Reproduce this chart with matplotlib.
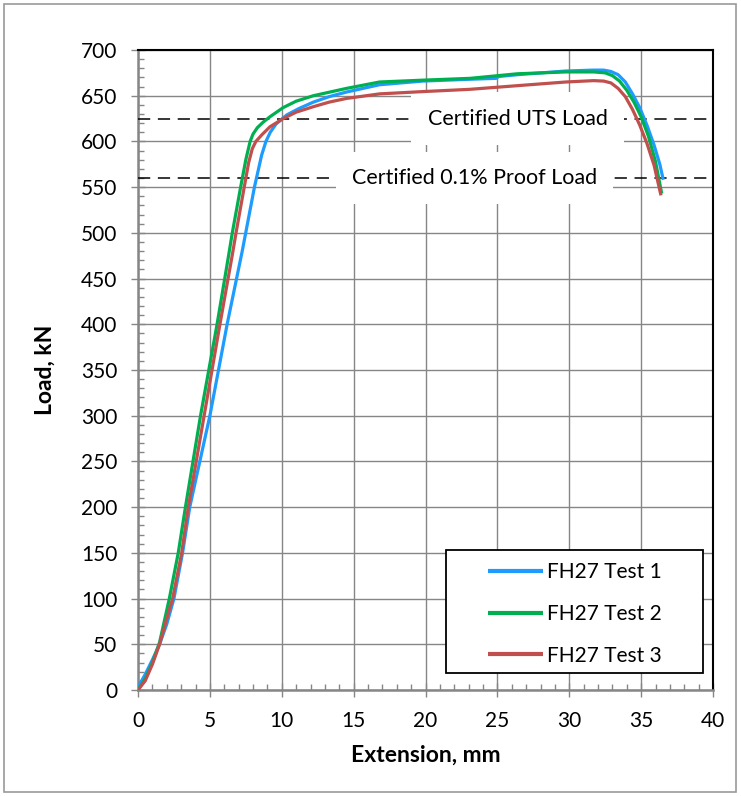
from matplotlib import pyplot as plt
from matplotlib.patches import Rectangle
from matplotlib.ticker import MultipleLocator
import numpy as np

plt.rcParams['font.family'] = ['Lato', 'DejaVu Sans']

# FH27 Test 1 (blue)
ext1 = [0, 0.5, 1.0, 1.5, 2.0, 2.5, 3.1, 3.6, 4.3, 5.0, 6.2, 7.25, 8.1, 8.6,
        8.9, 9.2, 9.6, 10.35, 11.2, 12.2, 13.3, 14.5, 16.8, 19.8, 23.1, 24.9,
        25.1, 26.4, 29.75, 31.7, 32.4, 32.9, 33.4, 33.9, 34.4, 34.9, 35.4,
        35.9, 36.3, 36.54]
load1 = [3, 17, 33, 50, 72, 100, 150, 200, 250, 300, 400, 480, 550, 585,
         600, 610, 619, 629, 636, 643, 649, 654, 662, 666, 668, 669,
         671, 673, 677, 678, 678, 676.5, 673, 665, 652, 637, 618,
         596, 575, 558]

# FH27 Test 2 (green)
ext2 = [0, 0.5, 1.0, 1.5, 2.18, 2.8, 3.3, 4.35, 5.5, 6.3, 6.56, 7.14, 7.5,
        7.8, 8.0, 8.3, 8.7, 9.18, 10.1, 11.0, 12.2, 14.5, 16.8, 19.8, 23.1,
        26.4, 29.75, 31.7, 32.5, 33.0, 33.5, 34.0, 34.5, 35.0, 35.5, 36.0,
        36.43]
load2 = [0, 12, 30, 52, 100, 150, 200, 300, 400, 475, 500, 550, 580,
         600, 608, 615, 621, 627, 637, 644, 650, 658, 665, 667, 669,
         674, 676, 676, 675, 672, 666, 656, 643, 627, 606, 578,
         543]

# FH27 Test 3 (red)
ext3 = [0, 0.5, 1.0, 1.5, 2.0, 2.41, 3.04, 3.5, 4.6, 5.7, 6.55, 6.82, 7.39,
        7.7, 7.95, 8.2, 8.6, 9.18, 10.1, 11.0, 12.2, 13.3, 14.5, 16.8, 19.8,
        23.1, 26.4, 29.75, 31.7, 32.4, 32.9, 33.4, 33.9, 34.4, 34.9, 35.4,
        35.9, 36.38]
load3 = [0, 10, 28, 50, 78, 100, 150, 200, 300, 400, 475, 500, 550,
         577, 592, 600, 607, 616, 625, 632, 638, 643, 647, 652, 654.5,
         657, 661, 665, 666.5, 666, 664, 658, 649, 635, 618, 598,
         574, 541]

series_labels = ['FH27 Test 1', 'FH27 Test 2', 'FH27 Test 3']
series_colors = ['#1E9BFF', '#00B050', '#C0504D']

uts_load = 625
proof_load = 560

gray = '#868686'

fig = plt.figure(figsize=(7.41, 7.96), dpi=100)
ax = fig.add_axes([138/741, 1 - 690/796, 575/741, 640/796])

# chart area border
fig.patches.append(Rectangle((4/741, 4/796), 732/741, 788/796,
                             transform=fig.transFigure, fill=False,
                             edgecolor='#9a9a9a', linewidth=1.2))

# certified loads
ax.axhline(uts_load, color='k', linewidth=1.1, dashes=(8, 5), zorder=3)
ax.axhline(proof_load, color='k', linewidth=1.1, dashes=(8, 5), zorder=3)
box = dict(boxstyle='square,pad=0.75', facecolor='white', edgecolor='none')
ax.text(26.4, uts_load, 'Certified UTS Load', fontsize=15.5, ha='center',
        va='center', bbox=box, zorder=4)
ax.text(23.4, proof_load, 'Certified 0.1% Proof Load', fontsize=15.5,
        ha='center', va='center', bbox=box, zorder=4)

lines = []
for ex, ld, lab, col in zip([ext1, ext2, ext3], [load1, load2, load3],
                            series_labels, series_colors):
    ln, = ax.plot(ex, ld, color=col, linewidth=2.3, label=lab, zorder=5,
                  solid_capstyle='butt', solid_joinstyle='round')
    lines.append(ln)

ax.set_xlim(0, 40)
ax.set_ylim(0, 700)
ax.xaxis.set_major_locator(MultipleLocator(5))
ax.xaxis.set_minor_locator(MultipleLocator(1))
ax.yaxis.set_major_locator(MultipleLocator(50))
ax.yaxis.set_minor_locator(MultipleLocator(10))
ax.grid(True, which='major', color=gray, linewidth=1.0)
ax.set_axisbelow(True)

ax.tick_params(which='major', direction='inout', length=10, width=1.0,
               color=gray, labelsize=15, pad=10)
ax.tick_params(which='minor', direction='in', length=4, width=1.0, color=gray)

for side in ['left', 'bottom']:
    ax.spines[side].set_color(gray)
    ax.spines[side].set_linewidth(1.8)
for side in ['top', 'right']:
    ax.spines[side].set_color('k')
    ax.spines[side].set_linewidth(1.5)

ax.set_xlabel('Extension, mm', fontsize=16.5, fontweight='bold')
ax.set_ylabel('Load, kN', fontsize=16.5, fontweight='bold')
ax.xaxis.set_label_coords(0.5, -0.1016)
ax.xaxis.label.set_va('center')
ax.yaxis.set_label_coords(-0.1617, 0.5)
ax.yaxis.label.set_va('center')

# legend frame drawn separately so the entries can sit inside a wide box
ax.add_patch(Rectangle((0.5357, 0.0266), 0.4469, 0.1922,
                       transform=ax.transAxes, facecolor='white',
                       edgecolor='k', linewidth=1.3, zorder=6))
leg = ax.legend(handles=lines, loc='upper left',
                bbox_to_anchor=(0.6087, 0.2), frameon=False,
                fontsize=15, handlelength=2.65, handletextpad=0.2,
                labelspacing=1.05, borderpad=0, borderaxespad=0)
leg.set_zorder(7)
for h in leg.get_lines():
    h.set_linewidth(3)

fig.savefig('out.png', dpi=100)
